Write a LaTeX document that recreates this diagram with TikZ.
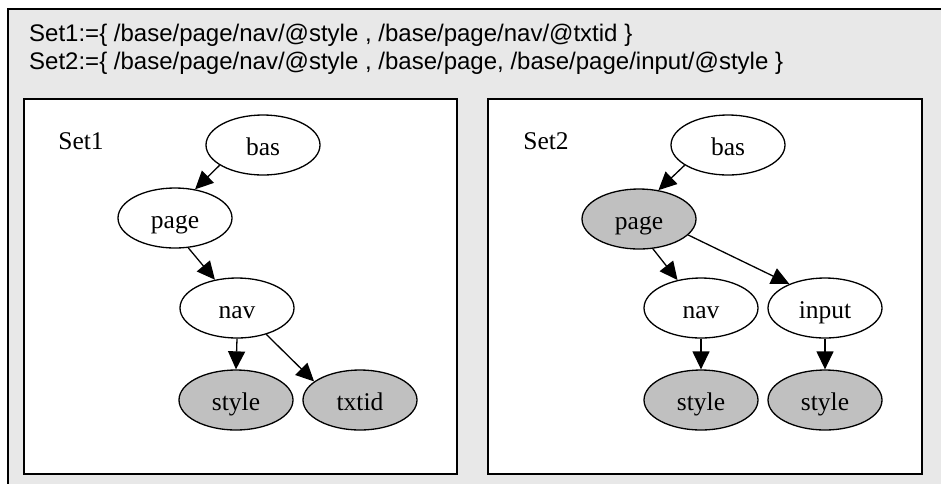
\documentclass[tikz,border=0pt]{standalone}
\usepackage{fontspec}
\setmainfont{Liberation Serif}
\newfontfamily\hdrfont{Liberation Sans}
\usetikzlibrary{arrows.meta,shapes.geometric}
\definecolor{bgray}{RGB}{232,232,232}
\definecolor{ngray}{RGB}{192,192,192}
\begin{document}
\begin{tikzpicture}[x=1pt,y=-1pt,
 nd/.style={ellipse, draw, line width=1.3pt, minimum width=114pt, minimum height=60pt, inner sep=0pt, text height=20pt, text depth=0pt, font=\fontsize{25.5}{30}\selectfont},
 gnd/.style={nd, fill=ngray},
 wnd/.style={nd, fill=white},
 edge/.style={line width=1.3pt, -{Triangle[length=18pt,width=17pt]}},
 panel/.style={draw, line width=1.6pt, fill=white},
 lbl/.style={anchor=base, font=\fontsize{25.5}{30}\selectfont, inner sep=0pt},
 hdr/.style={anchor=base west, inner sep=0pt, font=\hdrfont\fontsize{24}{28}\selectfont}]
\useasboundingbox (0,0) rectangle (941,483);
\draw[fill=bgray, line width=1.6pt] (8,9) rectangle (970,510);
\node[hdr] (h1) at (29,41) {Set1:=\{ /base/page/nav/@style , /base/page/nav/@txtid \}};
\node[hdr] (h2) at (29,69) {Set2:=\{ /base/page/nav/@style , /base/page, /base/page/input/@style \}};
\draw[panel] (24,99) rectangle (457,474);
\draw[panel] (488,99) rectangle (922,474);
% Set1
\node[lbl] (s1) at (81,149) {Set1};
\node[wnd] (a1) at (263,145) {bas};
\node[wnd] (b1) at (175,218) {page};
\node[wnd] (c1) at (237,308) {nav};
\node[gnd] (d1) at (236,400) {style};
\node[gnd] (e1) at (360,400) {txtid};
\draw[edge] (a1.205) -- (b1.55);
\draw[edge] (b1.294) -- (c1.128);
\draw[edge] (c1.south) -- (d1.north);
\draw[edge] (c1.318) -- (e1.158);
% Set2
\node[lbl] (s2) at (546,149) {Set2};
\node[wnd] (a2) at (728,145) {bas};
\node[gnd] (b2) at (639,219) {page};
\node[wnd] (c2) at (701,308) {nav};
\node[wnd] (f2) at (825,308) {input};
\node[gnd] (d2) at (701,400) {style};
\node[gnd] (g2) at (825,400) {style};
\draw[edge] (a2.205) -- (b2.56);
\draw[edge] (b2.295) -- (c2.130);
\draw[edge] (b2.342) -- (f2.146);
\draw[edge] (c2.south) -- (d2.north);
\draw[edge] (f2.south) -- (g2.north);
\end{tikzpicture}
\end{document}
